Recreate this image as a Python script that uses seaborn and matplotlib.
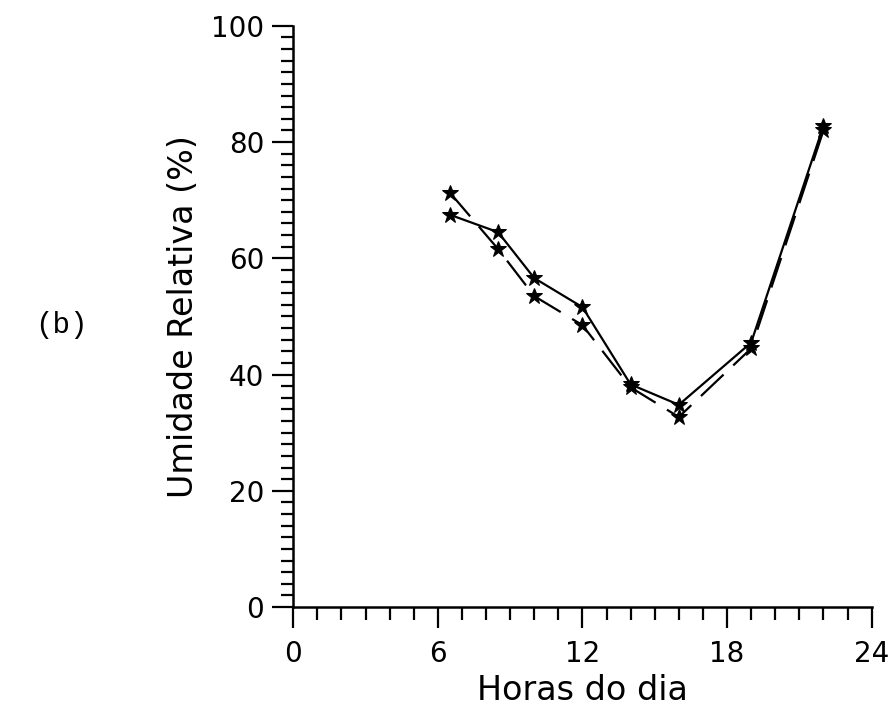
import matplotlib
matplotlib.use("Agg")
import matplotlib.pyplot as plt
from matplotlib.ticker import MultipleLocator
import pandas as pd
import seaborn as sns

# Hourly relative humidity, two measurement series
hours = [6.5, 8.5, 10, 12, 14, 16, 19, 22]
umidade_solid = [67.5, 64.5, 56.6, 51.6, 38.3, 34.8, 45.5, 82.8]
umidade_dashed = [71.3, 61.6, 53.5, 48.5, 37.8, 32.7, 44.5, 82.0]

x_ticks = [0, 6, 12, 18, 24]
y_ticks = [0, 20, 40, 60, 80, 100]

df = pd.concat([
    pd.DataFrame({"hora": hours, "umidade": umidade_solid, "serie": "A"}),
    pd.DataFrame({"hora": hours, "umidade": umidade_dashed, "serie": "B"}),
])

sns.set_theme(style="ticks")
plt.rcParams["font.family"] = ["DejaVu Sans"]
plt.rcParams["text.color"] = "black"
plt.rcParams["axes.labelcolor"] = "black"

fig = plt.figure(figsize=(8.94, 7.07), dpi=100)
ax = fig.add_axes([0.328, 0.1414, 0.647, 0.822])

sns.lineplot(data=df[df.serie == "A"], x="hora", y="umidade", ax=ax,
             color="black", lw=1.6, marker="*", markersize=12,
             markeredgecolor="black", markerfacecolor="black", legend=False)
sns.lineplot(data=df[df.serie == "B"], x="hora", y="umidade", ax=ax,
             color="black", lw=1.6, marker="*", markersize=12,
             markeredgecolor="black", markerfacecolor="black", legend=False,
             dashes=False)
ax.lines[-1].set_dashes([14, 6])

ax.set_xlim(0, 24)
ax.set_ylim(0, 100)
ax.set_xticks(x_ticks)
ax.set_yticks(y_ticks)
ax.xaxis.set_minor_locator(MultipleLocator(1))
ax.yaxis.set_minor_locator(MultipleLocator(2))

for side in ["top", "right"]:
    ax.spines[side].set_visible(False)
for side in ["left", "bottom"]:
    ax.spines[side].set_linewidth(1.8)
    ax.spines[side].set_color("black")

ax.tick_params(axis="both", which="major", direction="out", length=15,
               width=1.6, colors="black", labelsize=20, pad=6)
ax.tick_params(axis="x", which="major", pad=9)
ax.tick_params(axis="both", which="minor", direction="out", length=9,
               width=1.6, colors="black")

ax.set_xlabel("Horas do dia", fontsize=24, labelpad=4)
ax.set_ylabel("Umidade Relativa (%)", fontsize=24, labelpad=8)

fig.text(0.069, 0.54, "(b)", fontsize=21, family="Liberation Mono",
         color="black", ha="center", va="center")

fig.savefig("out.png", dpi=100, facecolor="white")
